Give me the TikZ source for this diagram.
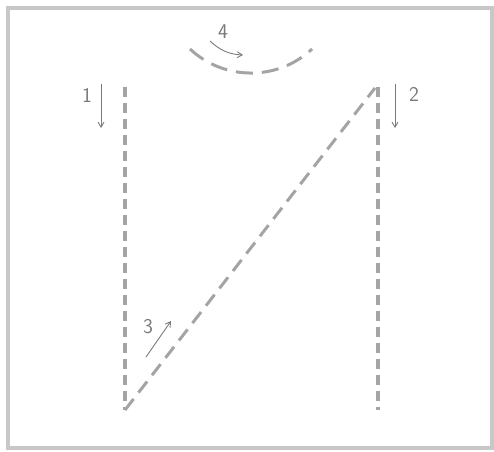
\documentclass[tikz,border=0pt]{standalone}
\usepackage{tikz}
\usetikzlibrary{arrows.meta}
\usetikzlibrary{positioning}
\definecolor{framegray}{HTML}{c8c8c8}
\definecolor{pathgray}{HTML}{a4a4a4}
\definecolor{markgray}{HTML}{7a7a7a}

\begin{document}
\begin{tikzpicture}[
    x=1pt, y=1pt,
    >={Straight Barb[length=5pt, width=6pt]},
    font=\sffamily\fontsize{21}{21}\selectfont,
    frame/.style={draw=framegray, line width=3.5pt},
    pathline/.style={draw=pathgray, line width=3.3pt, dash pattern=on 10pt off 6pt},
    diagline/.style={draw=pathgray, line width=3pt, dash pattern=on 14pt off 8pt},
    arcline/.style={draw=pathgray, line width=3pt, dash pattern=on 17pt off 9pt},
    motion/.style={->, draw=markgray, line width=0.9pt},
    steplabel/.style={text=markgray, inner sep=0pt},
]

\def\xl{125}    % left track
\def\xr{378}    % right track
\def\ytop{364}  % top of tracks
\def\ybot{41}   % bottom of tracks

\useasboundingbox (0,0) rectangle (494,451);
\draw[frame] (8,3) rectangle (492,443);

% ── tracks ──
\coordinate (Ltop) at (\xl, \ytop);
\coordinate (Lbot) at (\xl, \ybot);
\coordinate (Rtop) at (\xr, \ytop);
\coordinate (Rbot) at (\xr, \ybot);
\coordinate (Dtop) at (375, 363);

\draw[pathline] (Ltop) -- (Lbot);
\draw[pathline] (Rtop) -- (Rbot);
\draw[diagline] (Lbot) -- (Dtop);

% ── turn at the top ──
\coordinate (Astart) at (190, 402);
\draw[arcline] (Astart) arc[start angle=227, end angle=313, radius=89.5];

% ── step arrows and numbers ──
\coordinate (m1a) at (101, 367);
\coordinate (m1b) at (101, 323);
\draw[motion] (m1a) -- (m1b);
\node[steplabel] (n1) at (87, 356) {1};

\coordinate (m2a) at (395, 367);
\coordinate (m2b) at (395, 323);
\draw[motion] (m2a) -- (m2b);
\node[steplabel] (n2) at (414, 357) {2};

\coordinate (m3a) at (146, 94);
\coordinate (m3b) at (171, 130);
\draw[motion] (m3a) -- (m3b);
\node[steplabel] (n3) at (148, 124) {3};

\coordinate (m4a) at (210, 410);
\coordinate (m4b) at (243, 396);
\draw[motion] (m4a) to[bend right=20] (m4b);
\node[steplabel] (n4) at (223, 419) {4};

\end{tikzpicture}
\end{document}
